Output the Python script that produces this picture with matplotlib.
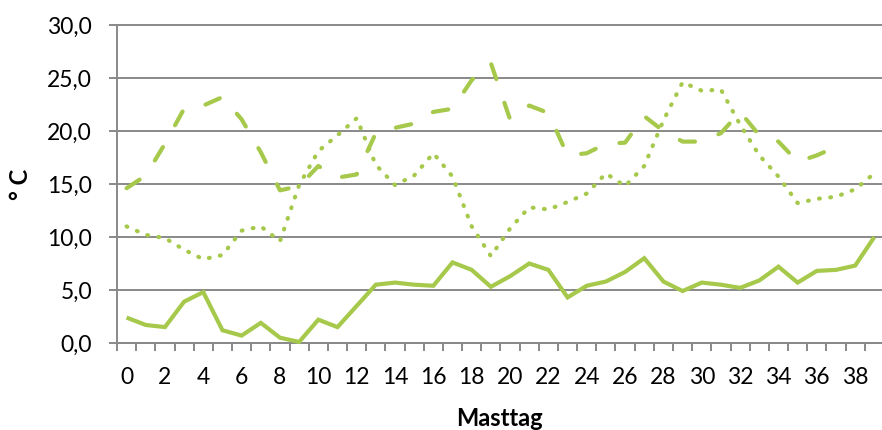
import numpy as np
import matplotlib
matplotlib.use('Agg')
import matplotlib.pyplot as plt
from matplotlib.ticker import FixedLocator, FuncFormatter

plt.rcParams['font.family'] = ['Lato', 'DejaVu Sans']

# Masttag 0..39
days = np.arange(40)

# minimum temperature
t_min = [2.4, 1.7, 1.5, 3.9, 4.8, 1.2, 0.7, 1.9, 0.5, 0.1,
         2.2, 1.5, 3.5, 5.5, 5.7, 5.5, 5.4, 7.6, 6.9, 5.3,
         6.3, 7.5, 6.9, 4.3, 5.4, 5.8, 6.7, 8.0, 5.8, 4.9,
         5.7, 5.5, 5.2, 5.9, 7.2, 5.7, 6.8, 6.9, 7.3, 10.0]

# maximum temperature (no readings after day 37)
t_max = [14.6, 15.8, 18.8, 22.1, 22.4, 23.2, 21.1, 18.0, 14.4, 14.8,
         16.7, 15.6, 15.9, 19.8, 20.3, 20.7, 21.8, 22.1, 24.8, 26.4,
         21.1, 22.4, 21.7, 17.7, 17.9, 18.8, 18.9, 21.4, 20.0, 19.0,
         19.0, 19.8, 21.8, 19.6, 19.0, 17.1, 17.7, 18.5]

# mean temperature
t_mean = [11.0, 10.2, 9.9, 8.8, 7.9, 8.3, 10.6, 11.0, 9.6, 14.9,
          18.1, 19.6, 21.2, 16.8, 14.9, 15.8, 17.9, 15.7, 11.0, 8.2,
          10.8, 12.8, 12.6, 13.3, 14.1, 16.0, 14.8, 16.7, 21.0, 24.6,
          23.8, 23.9, 20.6, 17.7, 15.7, 13.2, 13.6, 13.8, 14.5, 16.0]

green = '#a6c94c'
grey = '#898989'

fig = plt.figure(figsize=(8.82, 4.30), dpi=100)
ax = fig.add_axes([117 / 882, 87 / 430, 765 / 882, 318 / 430])

lw = 3.0
ax.plot(days, t_min, color=green, lw=lw, solid_joinstyle='miter',
        solid_capstyle='butt', clip_on=False, zorder=3)
ax.plot(days[:len(t_max)], t_max, color=green, lw=lw, dashes=(3.75, 6.0),
        dash_capstyle='round', dash_joinstyle='round', clip_on=False, zorder=3)
ax.plot(days, t_mean, color=green, lw=lw, dashes=(0.2, 2.5),
        dash_capstyle='round', clip_on=False, zorder=3)

ax.set_xlim(-0.5, 39.4)
ax.set_ylim(0, 30)

ax.set_yticks(np.arange(0, 31, 5))
ax.yaxis.set_major_formatter(FuncFormatter(lambda v, p: f'{v:.1f}'.replace('.', ',')))
ax.yaxis.grid(True, color=grey, lw=1.4)
for gl in ax.get_ygridlines():
    gl.set_clip_on(False)
ax.set_axisbelow(True)

ax.xaxis.set_major_locator(FixedLocator(np.arange(0, 39, 2)))
ax.xaxis.set_minor_locator(FixedLocator(np.arange(-0.5, 39.5, 1)))

for s in ['top', 'right']:
    ax.spines[s].set_visible(False)
for s in ['left', 'bottom']:
    ax.spines[s].set_color(grey)
    ax.spines[s].set_linewidth(1.4)

ax.tick_params(axis='y', which='major', length=6, width=1.4, color=grey,
               labelsize=16.5, pad=12, labelcolor='black')
ax.tick_params(axis='x', which='major', length=0, labelsize=16.5, pad=17,
               labelcolor='black')
ax.tick_params(axis='x', which='minor', length=6, width=1.4, color=grey,
               direction='out')

fig.text(499.5 / 882, 3.5 / 430, 'Masttag', ha='center', va='baseline',
         fontsize=17, fontweight='bold')
fig.text(21 / 882, (430 - 184) / 430, '° C', ha='center', va='center',
         rotation=90, fontsize=17, fontweight='bold')

fig.savefig('out.png', dpi=100)
